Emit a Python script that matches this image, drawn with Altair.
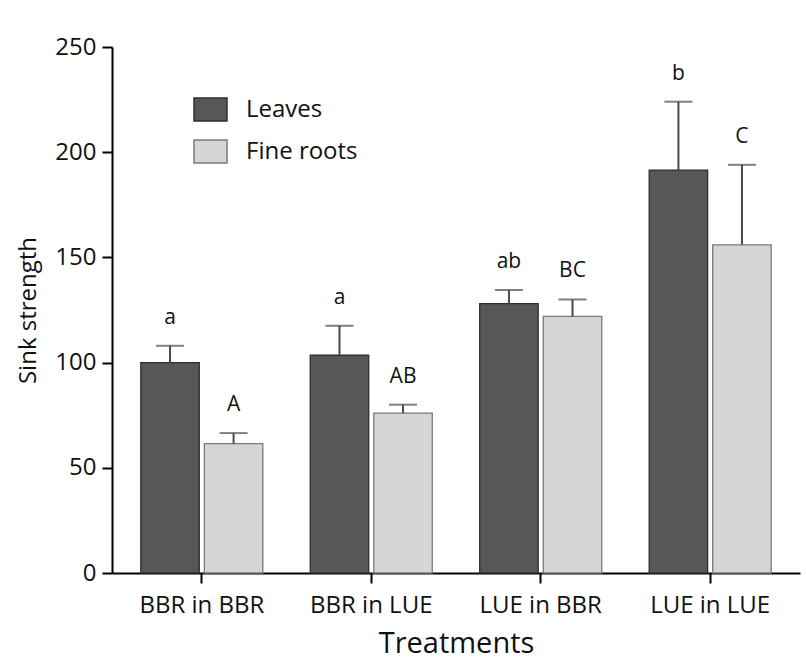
import altair as alt
import pandas as pd

# Sink strength per treatment, for leaves and fine roots (mean and upper error)
treatments = ["BBR in BBR", "BBR in LUE", "LUE in BBR", "LUE in LUE"]
tissues = ["Leaves", "Fine roots"]
leaves_mean = [100, 103.5, 128, 191.5]
leaves_err = [8, 14, 6.5, 32.5]
roots_mean = [61.5, 76, 122, 156]
roots_err = [5, 4, 8, 38]
leaves_letters = ["a", "a", "ab", "b"]
roots_letters = ["A", "AB", "BC", "C"]

rows = []
for i, t in enumerate(treatments):
    rows.append({"treatment": t, "tissue": "Leaves", "mean": leaves_mean[i],
                 "upper": leaves_mean[i] + leaves_err[i], "letter": leaves_letters[i]})
    rows.append({"treatment": t, "tissue": "Fine roots", "mean": roots_mean[i],
                 "upper": roots_mean[i] + roots_err[i], "letter": roots_letters[i]})
df = pd.DataFrame(rows)

FONT = "Open Sans"
TEXT = "#111111"

x_enc = alt.X(
    "treatment:N", sort=treatments,
    scale=alt.Scale(paddingInner=0.28, paddingOuter=0.17),
    axis=alt.Axis(title="Treatments", labelAngle=0, labelFontSize=24, titleFontSize=29,
                  labelPadding=10, titlePadding=12, titleFontWeight="normal",
                  domainColor="black", domainWidth=2, tickColor="black", tickWidth=2,
                  tickSize=10, labelColor=TEXT, titleColor=TEXT),
)
xoff = alt.XOffset("tissue:N", sort=tissues, scale=alt.Scale(paddingInner=0.08))
y_scale = alt.Scale(domain=[0, 250], nice=False)

base = alt.Chart(df)

bars = base.mark_bar(strokeWidth=1.3).encode(
    x=x_enc,
    xOffset=xoff,
    y=alt.Y("mean:Q", scale=y_scale,
            axis=alt.Axis(title="Sink strength", values=[0, 50, 100, 150, 200, 250],
                          grid=False, labelFontSize=24, titleFontSize=24,
                          titleFontWeight="normal", labelPadding=6, titlePadding=14,
                          domainColor="black", domainWidth=2, tickColor="black",
                          tickWidth=2, tickSize=10, labelColor=TEXT,
                          titleColor=TEXT)),
    fill=alt.Fill("tissue:N", sort=tissues,
                  scale=alt.Scale(domain=tissues, range=["#575757", "#d6d6d6"]),
                  legend=alt.Legend(title=None, orient="none", legendX=81, legendY=45,
                                    symbolType="M-1,-0.7H1V0.7H-1Z", symbolSize=1089,
                                    symbolStrokeColor="#444", symbolStrokeWidth=1.5,
                                    labelFontSize=24, labelFont=FONT, labelOffset=18,
                                    rowPadding=9, labelColor=TEXT)),
    stroke=alt.Stroke("tissue:N", sort=tissues,
                      scale=alt.Scale(domain=tissues, range=["#2e2e2e", "#7a7a7a"]),
                      legend=None),
)

err_line = base.mark_rule(color="#4a4a4a", strokeWidth=2).encode(
    x=x_enc, xOffset=xoff, y=alt.Y("mean:Q", scale=y_scale), y2="upper:Q"
)

err_cap = base.mark_tick(color="#4a4a4a", thickness=2, size=28).encode(
    x=x_enc, xOffset=xoff, y=alt.Y("upper:Q", scale=y_scale)
)

letters = base.mark_text(dy=-22, baseline="alphabetic", fontSize=21, font=FONT,
                         color=TEXT).encode(
    x=x_enc, xOffset=xoff, y=alt.Y("upper:Q", scale=y_scale), text="letter:N"
)

chart = (
    alt.layer(bars, err_line, err_cap, letters)
    .properties(width=688, height=526,
                autosize=alt.AutoSizeParams(type="none"),
                padding={"left": 112, "top": 47, "right": 6, "bottom": 91},
                background="white")
    .configure(font=FONT, view=alt.ViewConfig(stroke=None))
)

chart.save("out.html", embed_options={"renderer": "svg", "actions": False})
